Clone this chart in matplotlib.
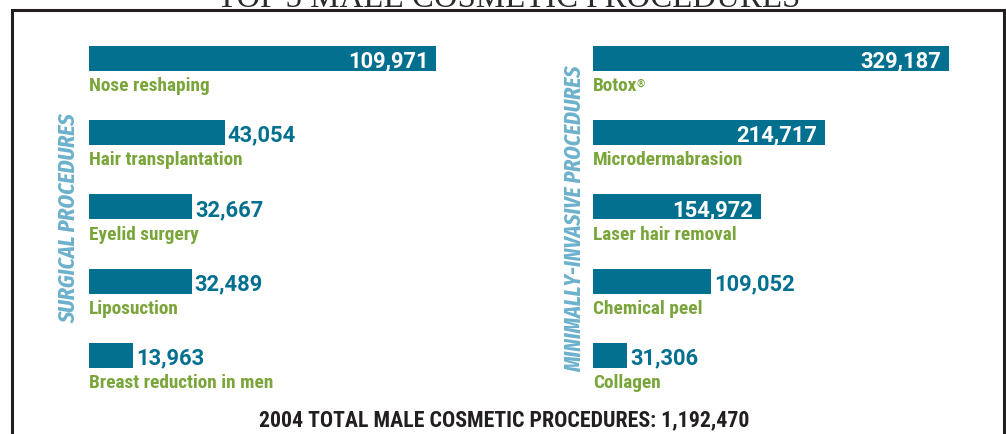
import matplotlib
matplotlib.use("Agg")
import matplotlib.pyplot as plt
from matplotlib.patches import Rectangle

# data
surgical_names = ["Nose reshaping", "Hair transplantation", "Eyelid surgery",
                  "Liposuction", "Breast reduction in men"]
surgical_vals = [109971, 43054, 32667, 32489, 13963]
minimal_names = ["Botox", "Microdermabrasion", "Laser hair removal",
                 "Chemical peel", "Collagen"]
minimal_vals = [329187, 214717, 154972, 109052, 31306]
title = "TOP 5 MALE COSMETIC PROCEDURES"
footer = "2004 TOTAL MALE COSMETIC PROCEDURES: 1,192,470"

teal = "#04708f"
green = "#7aa53a"
lightblue = "#6cb1cd"
dark = "#231f20"
cond = ["Roboto Condensed", "DejaVu Sans"]
xcond = ["Fira Sans Extra Condensed", "Roboto Condensed", "DejaVu Sans"]

W, H = 1006, 434
fig = plt.figure(figsize=(W / 100, H / 100), dpi=100)
fig.patch.set_facecolor("white")
renderer = fig.canvas.get_renderer()

step = 74.3      # px between bars
bar_h = 25.0     # px


def fit_size(t, length, vertical=False):
    # scale a text's font size so that it spans the given pixel length
    bb = t.get_window_extent(renderer)
    cur = bb.height if vertical else bb.width
    t.set_fontsize(t.get_fontsize() * length / cur)


def panel(left_px, px_per_unit, right_px, names, vals):
    top = 58.3 - step / 2
    ax = fig.add_axes([left_px / W, 1 - (top + 5 * step) / H,
                       (right_px - left_px) / W, 5 * step / H])
    ax.set_xlim(0, (right_px - left_px) / px_per_unit)
    ax.set_ylim(4.5, -0.5)
    ax.axis("off")
    ys = list(range(len(vals)))
    ax.barh(ys, vals, height=bar_h / step, color=teal, align="center")
    vmax = max(vals)
    for y, v, n in zip(ys, vals, names):
        lab = f"{v:,}"
        if v / vmax > 0.45:
            ax.annotate(lab, (v, y + 9 / step), xytext=(-5.5, 0),
                        textcoords="offset points", ha="right", va="baseline",
                        color="white", family="Roboto",
                        weight="bold", fontsize=15.8)
        else:
            ax.annotate(lab, (v, y + 9 / step), xytext=(2.2, 0),
                        textcoords="offset points", ha="left", va="baseline",
                        color=teal, family="Roboto",
                        weight="bold", fontsize=15.8)
        t = ax.text(0, y + 0.44, n, ha="left", va="baseline", color=green,
                    family=cond, weight="bold", fontsize=13.9)
        if n == "Botox":
            ax.annotate("®", xy=(1, 1), xycoords=t, xytext=(-0.6, -1.5),
                        textcoords="offset points", ha="left", va="top",
                        color=green, family=cond, weight="bold", fontsize=7.5)
    return ax


panel(89, 347 / 109971, 500, surgical_names, surgical_vals)
panel(593, 356 / 329187, 1000, minimal_names, minimal_vals)

# side titles
s1 = fig.text(69.5 / W, 1 - 218 / H, "SURGICAL PROCEDURES", rotation=90,
              ha="center", va="center", color=lightblue, family=xcond,
              weight="bold", style="italic", fontsize=16)
s2 = fig.text(575 / W, 1 - 218.5 / H, "MINIMALLY-INVASIVE PROCEDURES",
              rotation=90, ha="center", va="center", color=lightblue,
              family=xcond, weight="bold", style="italic", fontsize=16)
fit_size(s1, 210, vertical=True)
fit_size(s2, 307, vertical=True)

# frame
fig.add_artist(Rectangle((12 / W, -0.1), 992 / W, 1.1 - 10 / H,
                         transform=fig.transFigure, fill=False,
                         edgecolor=dark, lw=2.2))

fig.text(509 / W, 1 - 7 / H, title, ha="center", va="baseline",
         family="Liberation Serif", fontsize=23.7, color="#2b2b2b")
ft = fig.text(504.5 / W, 1 - 426.5 / H, footer, ha="center", va="baseline",
              family=cond, weight="bold", fontsize=15.2, color=dark)
fit_size(ft, 492)

fig.savefig("out.png", dpi=100, facecolor="white")
